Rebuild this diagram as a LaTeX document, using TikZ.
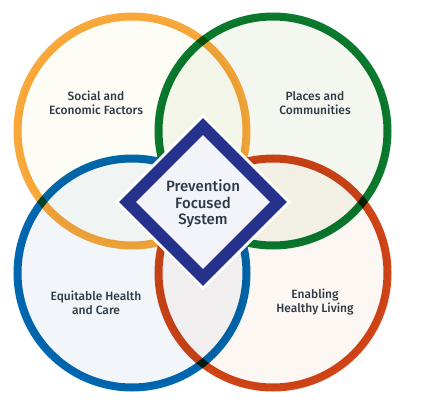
\documentclass[tikz,border=0pt]{standalone}
\usepackage{fontspec}
\setmainfont{Fira Sans}
\newfontfamily\medfont{Fira Sans Medium}
\definecolor{oranssi}{HTML}{F9A83B}
\definecolor{vihrea}{HTML}{0B7A2F}
\definecolor{sininen}{HTML}{0068B0}
\definecolor{punainen}{HTML}{CF4517}
\definecolor{laivasto}{HTML}{25318A}
\definecolor{teksti}{HTML}{2D3A45}
\definecolor{oranssi0}{HTML}{FDFDF6}
\definecolor{vihrea0}{HTML}{F4F7F0}
\definecolor{sininen0}{HTML}{F2F6FB}
\definecolor{punainen0}{HTML}{FDF7F3}
\definecolor{laivasto0}{HTML}{F3F3FA}
\tikzset{
  rengas/.style={line width=8pt},
  nimi/.style={font=\medfont\fontsize{12}{13.5}\selectfont, text=teksti, align=center}
}

\begin{document}
\begin{tikzpicture}[x=1pt,y=-1pt]
				\useasboundingbox (0,0) rectangle (424,409);
				\begin{scope}[blend mode=multiply]
				\draw[rengas,draw=oranssi,fill=oranssi0] (132,131) circle(114.5pt);
				\draw[rengas,draw=vihrea,fill=vihrea0] (273,131) circle(114.5pt);
				\draw[rengas,draw=sininen,fill=sininen0] (132,273) circle(114.5pt);
				\draw[rengas,draw=punainen,fill=punainen0] (273,273) circle(114.5pt);
				\end{scope}
				\draw[line width=18pt,white,miter limit=10] (203,126.5) -- (278.5,202) -- (203,277.5) -- (127.5,202) -- cycle;
				\draw[line width=12pt,draw=laivasto,fill=laivasto0,miter limit=10] (203,126.5) -- (278.5,202) -- (203,277.5) -- (127.5,202) -- cycle;
				\node[nimi] (sosiaalinen) at (96,103) {Social and\\Economic Factors};
				\node[nimi] (paikat) at (315,103) {Places and\\Communities};
				\node[nimi] (terveys) at (96,303) {Equitable Health\\and Care};
				\node[nimi] (elama) at (315,302) {Enabling\\Healthy Living};
				\node[nimi,font=\medfont\fontsize{15}{16.5}\selectfont] (keskus) at (203,204) {Prevention\\Focused\\System};
			\end{tikzpicture}
\end{document}
